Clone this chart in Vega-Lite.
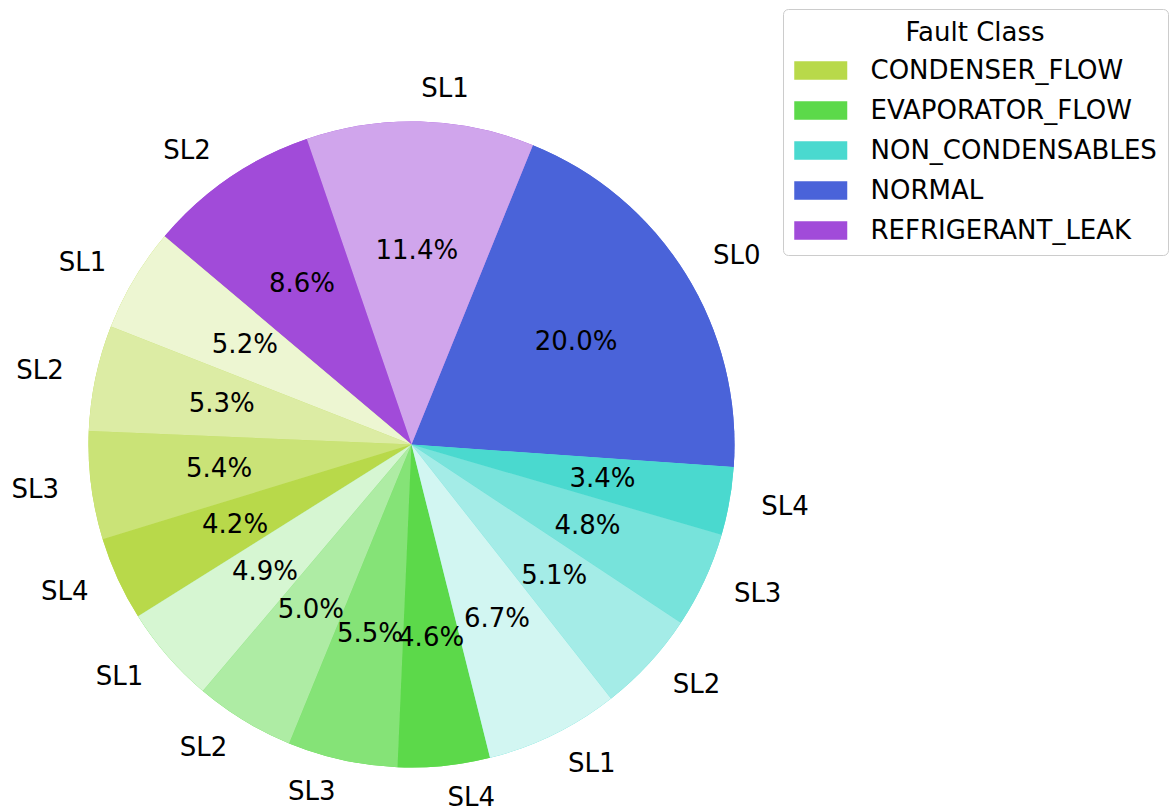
{
  "$schema": "https://vega.github.io/schema/vega-lite/v6.json",
  "width": 823,
  "height": 731,
  "autosize": {"type": "none"},
  "padding": {"left": 0, "top": 79, "right": 350, "bottom": 0},
  "background": "white",
  "config": {
    "view": {"stroke": null},
    "font": "DejaVu Sans",
    "text": {"font": "DejaVu Sans", "fontSize": 26, "color": "black"}
  },
  "data": {
    "values": [
      {"i": 1, "class": "NORMAL", "level": "SL0", "slice": "NORMAL SL0", "share": 0.200},
      {"i": 2, "class": "REFRIGERANT_LEAK", "level": "SL1", "slice": "REFRIGERANT_LEAK SL1", "share": 0.114},
      {"i": 3, "class": "REFRIGERANT_LEAK", "level": "SL2", "slice": "REFRIGERANT_LEAK SL2", "share": 0.086},
      {"i": 4, "class": "CONDENSER_FLOW", "level": "SL1", "slice": "CONDENSER_FLOW SL1", "share": 0.052},
      {"i": 5, "class": "CONDENSER_FLOW", "level": "SL2", "slice": "CONDENSER_FLOW SL2", "share": 0.053},
      {"i": 6, "class": "CONDENSER_FLOW", "level": "SL3", "slice": "CONDENSER_FLOW SL3", "share": 0.054},
      {"i": 7, "class": "CONDENSER_FLOW", "level": "SL4", "slice": "CONDENSER_FLOW SL4", "share": 0.042},
      {"i": 8, "class": "EVAPORATOR_FLOW", "level": "SL1", "slice": "EVAPORATOR_FLOW SL1", "share": 0.049},
      {"i": 9, "class": "EVAPORATOR_FLOW", "level": "SL2", "slice": "EVAPORATOR_FLOW SL2", "share": 0.050},
      {"i": 10, "class": "EVAPORATOR_FLOW", "level": "SL3", "slice": "EVAPORATOR_FLOW SL3", "share": 0.055},
      {"i": 11, "class": "EVAPORATOR_FLOW", "level": "SL4", "slice": "EVAPORATOR_FLOW SL4", "share": 0.046},
      {"i": 12, "class": "NON_CONDENSABLES", "level": "SL1", "slice": "NON_CONDENSABLES SL1", "share": 0.067},
      {"i": 13, "class": "NON_CONDENSABLES", "level": "SL2", "slice": "NON_CONDENSABLES SL2", "share": 0.051},
      {"i": 14, "class": "NON_CONDENSABLES", "level": "SL3", "slice": "NON_CONDENSABLES SL3", "share": 0.048},
      {"i": 15, "class": "NON_CONDENSABLES", "level": "SL4", "slice": "NON_CONDENSABLES SL4", "share": 0.034}
    ]
  },
  "encoding": {
    "theta": {
      "field": "share",
      "type": "quantitative",
      "stack": "normalize",
      "scale": {"domain": [0, 1], "range": [1.64061, -4.64258]}
    },
    "order": {"field": "i", "type": "quantitative"}
  },
  "layer": [
    {
      "mark": {"type": "arc", "radius": 323},
      "encoding": {
        "color": {
          "field": "class",
          "type": "nominal",
          "scale": {
            "domain": ["CONDENSER_FLOW", "EVAPORATOR_FLOW", "NON_CONDENSABLES", "NORMAL", "REFRIGERANT_LEAK"],
            "range": ["#B8D94A", "#5CD94A", "#4AD9CF", "#4A63D9", "#A14BD9"]
          },
          "legend": {
            "title": "Fault Class",
            "orient": "none",
            "legendX": 783,
            "legendY": -70,
            "padding": 11,
            "fillColor": "white",
            "strokeColor": "#cccccc",
            "cornerRadius": 5,
            "titleFont": "DejaVu Sans",
            "titleFontSize": 26,
            "titleFontWeight": "normal",
            "titleColor": "black",
            "titleAnchor": "middle",
            "titleAlign": "center",
            "titlePadding": 11,
            "labelFont": "DejaVu Sans",
            "labelFontSize": 26,
            "labelColor": "black",
            "labelLimit": 400,
            "labelOffset": 49.5,
            "symbolType": "M-1,-0.7L3,-0.7L3,0.7L-1,0.7Z",
            "symbolSize": 702.25,
            "symbolStrokeWidth": 0,
            "symbolOpacity": 1,
            "rowPadding": 13
          }
        }
      }
    },
    {
      "mark": {"type": "arc", "radius": 323},
      "encoding": {
        "color": {
          "field": "slice",
          "type": "nominal",
          "scale": {
            "domain": [
              "NORMAL SL0",
              "REFRIGERANT_LEAK SL1", "REFRIGERANT_LEAK SL2",
              "CONDENSER_FLOW SL1", "CONDENSER_FLOW SL2", "CONDENSER_FLOW SL3", "CONDENSER_FLOW SL4",
              "EVAPORATOR_FLOW SL1", "EVAPORATOR_FLOW SL2", "EVAPORATOR_FLOW SL3", "EVAPORATOR_FLOW SL4",
              "NON_CONDENSABLES SL1", "NON_CONDENSABLES SL2", "NON_CONDENSABLES SL3", "NON_CONDENSABLES SL4"
            ],
            "range": [
              "#4A63D9",
              "#D0A5EC", "#A14BD9",
              "#EDF6D2", "#DCECA4", "#CAE377", "#B8D94A",
              "#D6F6D2", "#AEECA4", "#85E377", "#5CD94A",
              "#D2F6F2", "#A4ECE7", "#77E3DB", "#4AD9CF"
            ]
          },
          "legend": null
        }
      }
    },
    {
      "mark": {"type": "text", "radius": 194, "align": "center", "baseline": "middle", "fontSize": 26, "font": "DejaVu Sans", "color": "black"},
      "encoding": {
        "detail": {"field": "slice", "type": "nominal"},
        "text": {"field": "share", "type": "quantitative", "format": ".1%"}
      }
    },
    {
      "mark": {"type": "text", "radius": 355.3, "align": "left", "baseline": "middle", "fontSize": 26, "font": "DejaVu Sans", "color": "black"},
      "encoding": {
        "detail": {"field": "slice", "type": "nominal"},
        "text": {
          "condition": {"test": "sin(1.64061 - PI * (datum.share_start + datum.share_end)) > 0", "field": "level", "type": "nominal"},
          "value": ""
        }
      }
    },
    {
      "mark": {"type": "text", "radius": 355.3, "align": "right", "baseline": "middle", "fontSize": 26, "font": "DejaVu Sans", "color": "black"},
      "encoding": {
        "detail": {"field": "slice", "type": "nominal"},
        "text": {
          "condition": {"test": "sin(1.64061 - PI * (datum.share_start + datum.share_end)) <= 0", "field": "level", "type": "nominal"},
          "value": ""
        }
      }
    }
  ],
  "resolve": {"scale": {"color": "independent"}, "legend": {"color": "independent"}}
}
